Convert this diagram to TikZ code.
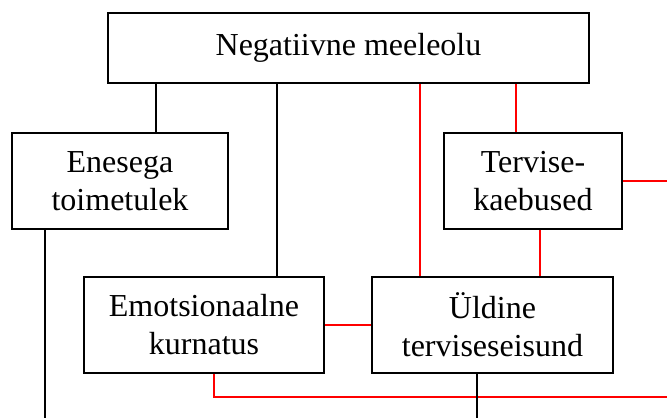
\documentclass[tikz,border=0pt]{standalone}
\usepackage{fontspec}
\setmainfont{Liberation Serif}
\begin{document}
\begin{tikzpicture}[x=1pt,y=-1pt,
  box/.style={draw=black,line width=1.8pt,rectangle,inner sep=0pt,align=center,
    font=\fontsize{32}{38}\selectfont},
  blk/.style={draw=black,line width=2.6pt},
  rd/.style={draw=red,line width=2.8pt}]
\useasboundingbox (0,0) rectangle (667,418);
\node[box,minimum width=481pt,minimum height=70pt] (top) at (348.5,48) {Negatiivne meeleolu};
\node[box,minimum width=216pt,minimum height=96pt] (ene) at (120,181) {Enesega\\toimetulek};
\node[box,minimum width=178pt,minimum height=96pt] (ter) at (533,181) {Tervise-\\kaebused};
\node[box,minimum width=240pt,minimum height=96pt] (emo) at (204,325) {Emotsionaalne\\kurnatus};
\node[box,minimum width=241pt,minimum height=96pt] (uld) at (492.5,325) {Üldine\\terviseseisund};
\coordinate (x156) at (156,0);
\coordinate (x277) at (277,0);
\coordinate (x420) at (420,0);
\coordinate (x516) at (516,0);
\coordinate (x540) at (540,0);
\coordinate (x45) at (45,418);
\coordinate (x477) at (477,418);
\coordinate (x214) at (214,397);
\coordinate (re) at (667,181);
\coordinate (rb) at (667,397);
% red connectors
\draw[rd] (x420 |- top.south) -- (x420 |- uld.north);
\draw[rd] (x516 |- top.south) -- (x516 |- ter.north);
\draw[rd] (x540 |- ter.south) -- (x540 |- uld.north);
\draw[rd] (ter.east) -- (re);
\draw[rd] (emo.east) -- (uld.west);
\draw[rd] (x214 |- emo.south) -- (x214) -- (rb);
% black connectors
\draw[blk] (x156 |- top.south) -- (x156 |- ene.north);
\draw[blk] (x277 |- top.south) -- (x277 |- emo.north);
\draw[blk] (x45 |- ene.south) -- (x45);
\draw[blk] (x477 |- uld.south) -- (x477);
\end{tikzpicture}
\end{document}
